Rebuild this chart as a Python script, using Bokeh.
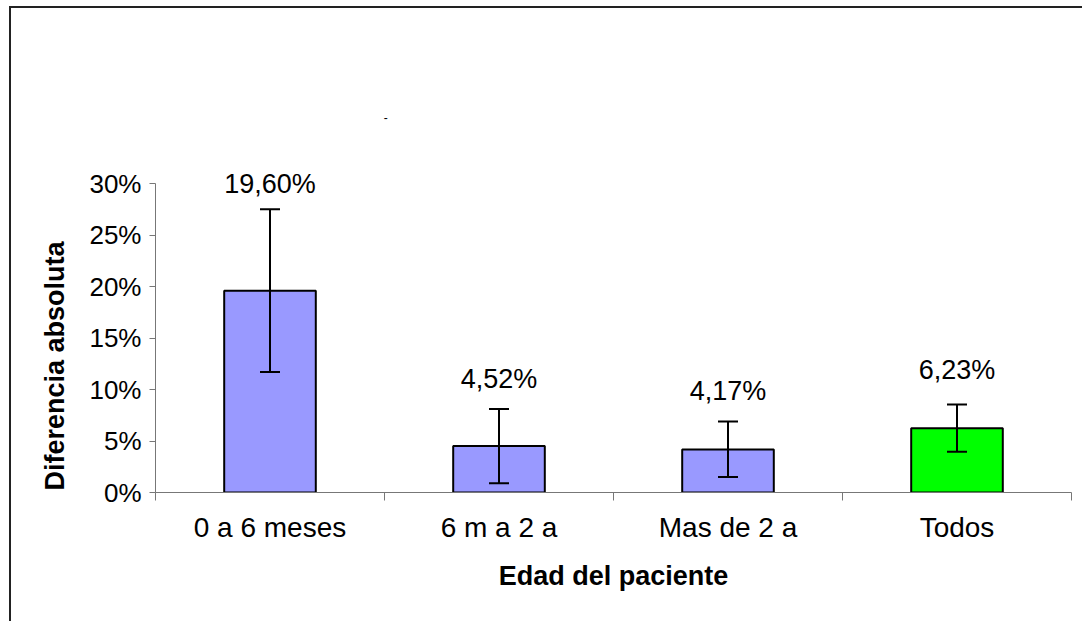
from bokeh.plotting import figure
from bokeh.models import ColumnDataSource, FixedTicker, Whisker, TeeHead, LabelSet, Label, Title
from bokeh.core.properties import value
from bokeh.embed import file_html
from bokeh.resources import INLINE

categories = ["0 a 6 meses", "6 m a 2 a", "Mas de 2 a", "Todos"]
values = [19.60, 4.52, 4.17, 6.23]
err_upper = [27.5, 8.1, 6.9, 8.55]
err_lower = [11.7, 0.9, 1.5, 3.95]
value_labels = ["19,60%", "4,52%", "4,17%", "6,23%"]
colors = ["#9999FF", "#9999FF", "#9999FF", "#00FF00"]
label_y = [30.0, 11.0, 9.9, 11.85]
y_ticks = [0, 5, 10, 15, 20, 25, 30]

FONT = "Liberation Sans"

xs = [i + 0.5 for i in range(len(categories))]
src = ColumnDataSource(dict(x=xs, top=values, upper=err_upper, lower=err_lower,
                            color=colors, lab=value_labels, ly=label_y))

p = figure(width=1073, height=615, output_backend="svg", toolbar_location=None,
           x_range=(0, len(categories)), y_range=(0, 38.06),
           min_border_left=144, min_border_top=92, min_border_right=13, min_border_bottom=131)
p.styles = {"margin-left": "11px", "margin-top": "8px",
            "box-shadow": "-2px -2px 0px 0px #222222"}
p.outline_line_color = None
p.grid.grid_line_color = None
p.background_fill_color = "white"
p.border_fill_color = "white"

p.vbar(x="x", top="top", width=0.4, fill_color="color", line_color="black",
       line_width=2, source=src)

w = Whisker(base="x", upper="upper", lower="lower", source=src,
            line_color="black", line_width=2, level="overlay",
            upper_head=TeeHead(size=20, line_color="black", line_width=2),
            lower_head=TeeHead(size=20, line_color="black", line_width=2))
p.add_layout(w)

labels = LabelSet(x="x", y="ly", text="lab", source=src, text_align="center",
                  text_baseline="middle", text_font=value(FONT), text_font_size="27px",
                  text_color="black")
p.add_layout(labels)

p.add_layout(Label(x=1.005, y=36.4, text="-", text_font=FONT, text_font_size="12px",
                   text_align="center", text_baseline="middle", text_color="black"))

axis_color = "#777777"
# y axis
p.yaxis.ticker = FixedTicker(ticks=y_ticks)
p.yaxis.bounds = (0, 30)
p.yaxis.major_label_overrides = {t: f"{t}%" for t in y_ticks}
p.yaxis.minor_tick_line_color = None
p.yaxis.major_tick_out = 6
p.yaxis.major_tick_in = 0
p.yaxis.axis_line_color = axis_color
p.yaxis.major_tick_line_color = axis_color
p.yaxis.major_label_text_font = FONT
p.yaxis.major_label_text_font_size = "26px"
p.yaxis.major_label_text_color = "black"
p.yaxis.major_label_standoff = 8

ytitle = Title(text="Diferencia absoluta", align="left", offset=2, standoff=33,
               text_font=FONT, text_font_style="bold", text_font_size="27px",
               text_color="black")
p.add_layout(ytitle, "left")

# x axis
p.xaxis.ticker = FixedTicker(ticks=xs, minor_ticks=list(range(len(categories) + 1)))
p.xaxis.major_label_overrides = {x: c for x, c in zip(xs, categories)}
p.xaxis.major_tick_out = 0
p.xaxis.major_tick_in = 0
p.xaxis.minor_tick_out = 8
p.xaxis.minor_tick_in = 0
p.xaxis.axis_line_color = axis_color
p.xaxis.minor_tick_line_color = axis_color
p.xaxis.major_label_text_font = FONT
p.xaxis.major_label_text_font_size = "28px"
p.xaxis.major_label_text_color = "black"
p.xaxis.major_label_standoff = 11
p.xaxis.axis_label = "Edad del paciente"
p.xaxis.axis_label_text_font = FONT
p.xaxis.axis_label_text_font_style = "bold"
p.xaxis.axis_label_text_font_size = "27px"
p.xaxis.axis_label_text_color = "black"
p.xaxis.axis_label_standoff = 15

open("out.html", "w").write(file_html(p, INLINE))
